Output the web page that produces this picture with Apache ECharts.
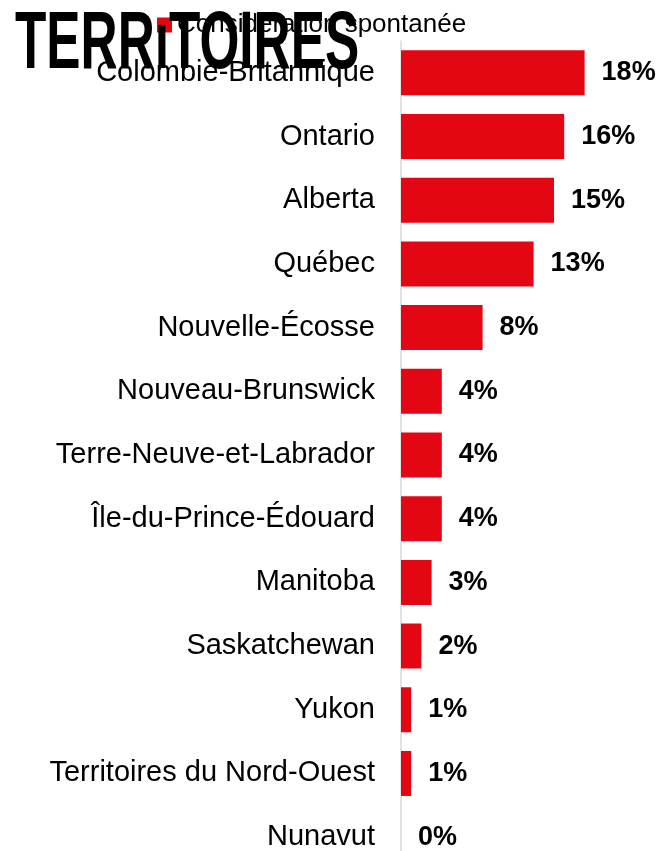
<!DOCTYPE html>
<html>
<head>
<meta charset="utf-8">
<script src="https://cdn.jsdelivr.net/npm/echarts@6/dist/echarts.min.js"></script>
<style>
  html, body { margin: 0; padding: 0; background: #fff; overflow: hidden; }
  #chart { width: 661px; height: 880px; }
</style>
</head>
<body>
<div id="chart"></div>
<script>
const provinces = [
  'Colombie-Britannique', 'Ontario', 'Alberta', 'Québec', 'Nouvelle-Écosse',
  'Nouveau-Brunswick', 'Terre-Neuve-et-Labrador', 'Île-du-Prince-Édouard',
  'Manitoba', 'Saskatchewan', 'Yukon', 'Territoires du Nord-Ouest', 'Nunavut'
]
const spontaneous = [18, 16, 15, 13, 8, 4, 4, 4, 3, 2, 1, 1, 0]
const seriesName = 'Considération spontanée'
const logoText = 'TERRıTOIRES'

// the page is taller than the window so the last row (Nunavut) sits half cut off like in the source
const chart = echarts.init(document.getElementById('chart'))
chart.setOption({
  animation: false,
  textStyle: { fontFamily: '"Liberation Sans", Arial, sans-serif' },
  graphic: [
    {
      type: 'text',
      x: 15,
      y: 4,
      scaleX: 0.626,
      z: 100,
      style: {
        text: logoText,
        font: 'bold 82px "Liberation Sans Narrow", "Liberation Sans", sans-serif',
        fill: '#000',
        verticalAlign: 'top'
      }
    }
  ],
  legend: {
    data: [seriesName],
    left: 157,
    top: 12,
    padding: 0,
    itemWidth: 15,
    itemHeight: 15,
    icon: 'rect',
    z: 1,
    textStyle: { fontSize: 26, color: '#000' }
  },
  grid: {
    left: 401,
    top: 41,
    width: 204,
    height: 828
  },
  xAxis: {
    type: 'value',
    min: 0,
    max: 20,
    show: false,
    splitLine: { show: false }
  },
  yAxis: {
    type: 'category',
    inverse: true,
    data: provinces,
    axisLine: { show: true, lineStyle: { color: '#d9d9d9', width: 1.5 } },
    axisTick: { show: false },
    axisLabel: { fontSize: 29, color: '#000', margin: 26 }
  },
  series: [
    {
      name: seriesName,
      type: 'bar',
      data: spontaneous,
      barWidth: 45,
      itemStyle: { color: '#e30613' },
      label: {
        show: true,
        position: 'right',
        distance: 17,
        fontSize: 27,
        fontWeight: 'bold',
        color: '#000',
        formatter: p => p.value + '%'
      }
    }
  ]
})
</script>
</body>
</html>
